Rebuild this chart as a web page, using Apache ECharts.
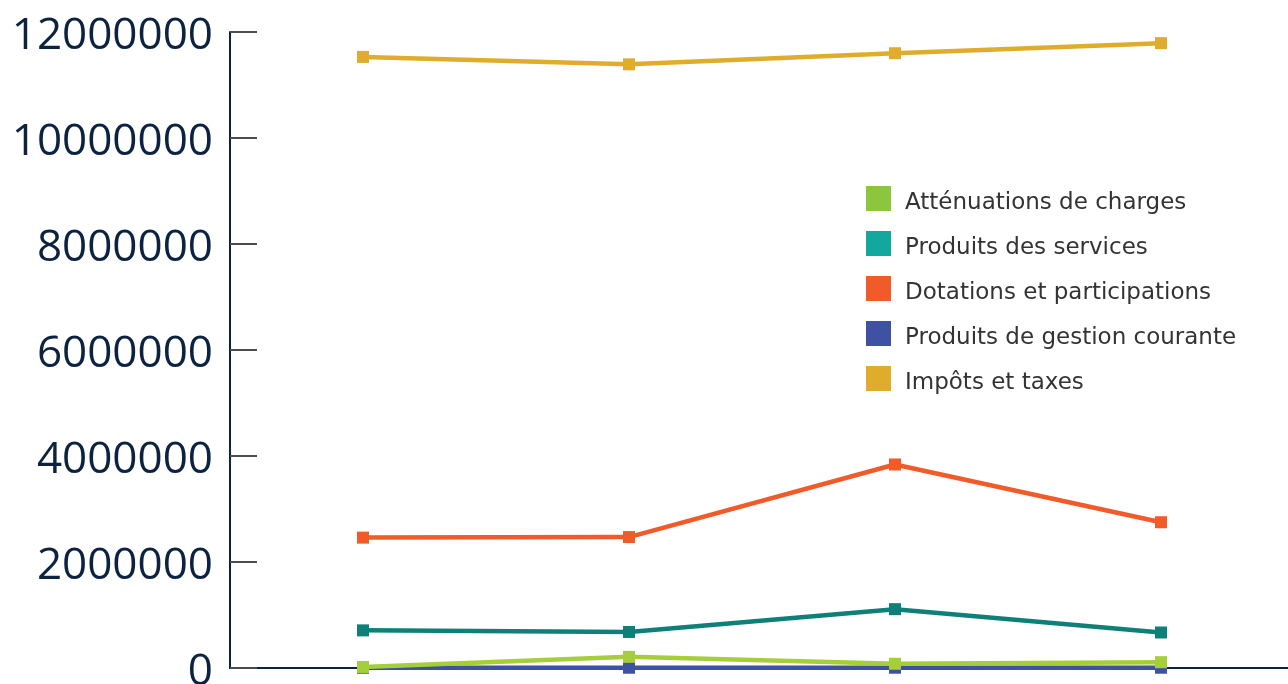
<!DOCTYPE html>
<html><head><meta charset="utf-8">
<script src="https://cdn.jsdelivr.net/npm/echarts@6/dist/echarts.min.js"></script>
<style>html,body{margin:0;padding:0;background:#fff}#c{width:1288px;height:684px}</style>
</head><body><div id="c"></div>
<script>
var categories = ['2019', '2020', '2021', '2022'];
var attenuations = [20000, 210000, 80000, 110000];
var produitsServices = [710000, 680000, 1110000, 670000];
var dotations = [2460000, 2470000, 3840000, 2750000];
var gestionCourante = [5000, 5000, 5000, 5000];
var impots = [11530000, 11390000, 11600000, 11790000];
var yTicks = { min: 0, max: 12000000, interval: 2000000 };

var names = ['Atténuations de charges', 'Produits des services', 'Dotations et participations', 'Produits de gestion courante', 'Impôts et taxes'];
var legendColors = ['#8cc63f', '#13a89e', '#f15a29', '#3f51a3', '#e0ac2b'];
var lineColors = ['#a6ce39', '#0f8078', '#f15a29', '#3f51a3', '#e0ac2b'];

function mk(idx, data, z) {
  return {
    name: names[idx], type: 'line', data: data, z: z,
    symbol: 'rect', symbolSize: 12, showSymbol: true,
    lineStyle: { width: 4.5, color: lineColors[idx] },
    itemStyle: { color: lineColors[idx] },
    emphasis: { disabled: true }, animation: false
  };
}

var chart = echarts.init(document.getElementById('c'), null, { renderer: 'canvas' });
chart.setOption({
  animation: false,
  grid: { left: 230, top: 32, width: 1064, height: 636, containLabel: false, outerBoundsMode: 'none' },
  legend: {
    orient: 'vertical', left: 861, top: 181, padding: 5,
    icon: 'rect', itemWidth: 25, itemHeight: 25, itemGap: 16,
    selectedMode: false,
    formatter: '{a|{name}}',
    textStyle: {
      fontFamily: 'DejaVu Sans', fontSize: 23, color: '#333333',
      rich: { a: { fontFamily: 'DejaVu Sans', fontSize: 23, color: '#333333', padding: [10, 0, 0, 9] } }
    },
    data: names.map(function (n, i) { return { name: n, itemStyle: { color: legendColors[i] } }; })
  },
  xAxis: {
    type: 'category', data: categories, boundaryGap: true,
    axisLine: { lineStyle: { color: '#0d2240', width: 2 } },
    axisTick: { inside: true, length: 15, lineStyle: { color: '#0d2240', width: 1.5 } },
    axisLabel: { show: false }
  },
  yAxis: {
    type: 'value', min: yTicks.min, max: yTicks.max, interval: yTicks.interval,
    axisLine: { show: true, lineStyle: { color: '#0d2240', width: 2 } },
    axisTick: { show: true, inside: true, length: 27, lineStyle: { color: '#4d4d4d', width: 2 } },
    splitLine: { show: false },
    axisLabel: {
      fontFamily: 'Open Sans', fontSize: 44, color: '#0b2341', margin: 17,
      formatter: function (v) { return '{a|' + v + '}'; },
      rich: { a: { fontFamily: 'Open Sans', fontSize: 44, color: '#0b2341', padding: [8, 0, 0, 0] } }
    }
  },
  series: [
    mk(1, produitsServices, 2),
    mk(2, dotations, 2),
    mk(4, impots, 2),
    mk(3, gestionCourante, 2),
    mk(0, attenuations, 3)
  ]
});
</script></body></html>
